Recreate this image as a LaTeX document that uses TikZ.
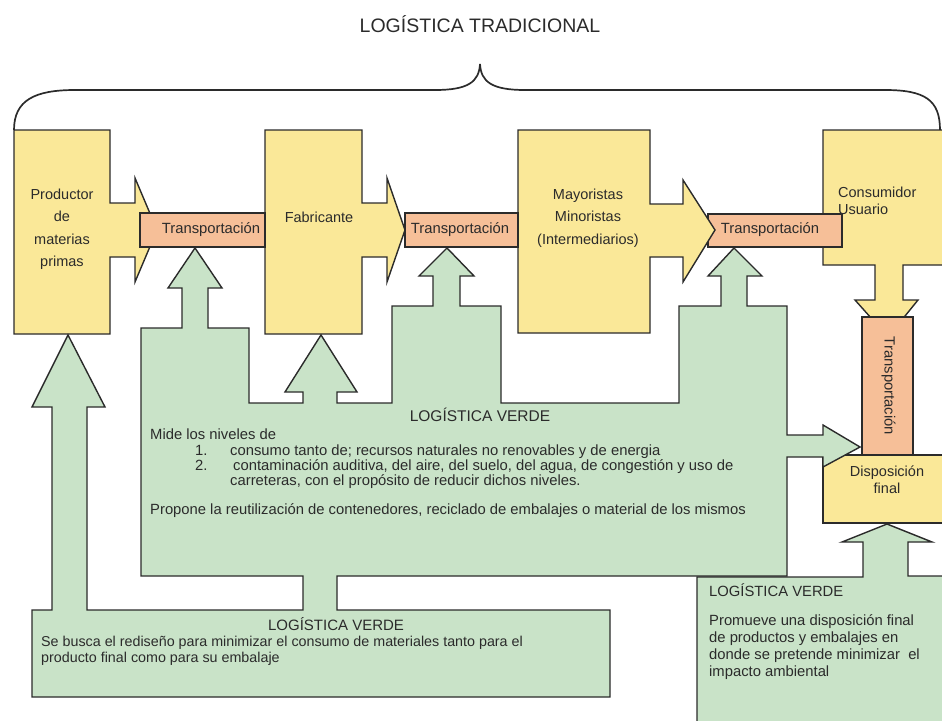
\documentclass[tikz,border=0pt]{standalone}
\usepackage{fontspec}
\setmainfont{Liberation Sans}
\usepackage{tikz}

\definecolor{boxyellow}{HTML}{FAE898}
\definecolor{barorange}{HTML}{F6BF98}
\definecolor{leafgreen}{HTML}{C9E3C8}
\definecolor{inkgray}{HTML}{2B2B2B}

\tikzset{
  shapeline/.style={draw=inkgray, line width=1.4pt, line join=miter},
  yellowbox/.style={shapeline, fill=boxyellow},
  orangebar/.style={shapeline, fill=barorange},
  greenarrow/.style={shapeline, fill=leafgreen},
  braceline/.style={draw=inkgray, line width=1.7pt},
  titletext/.style={text=inkgray, font=\fontsize{19.5}{21}\selectfont, inner sep=0pt},
  boxtext/.style={text=inkgray, font=\fontsize{14.5}{22.5}\selectfont, inner sep=0pt, align=center},
  bodytext/.style={text=inkgray, font=\fontsize{14.8}{16}\selectfont, inner sep=0pt, anchor=west, text height=1.5ex, text depth=.25ex},
  headtext/.style={text=inkgray, font=\fontsize{14.8}{16}\selectfont, inner sep=0pt, text height=1.5ex, text depth=.25ex}
}

\begin{document}
\begin{tikzpicture}[x=1pt,y=-1pt]
\useasboundingbox (0,0) rectangle (942,720);
\clip (0,0) rectangle (942,720);

\node[titletext] (tradicional) at (480,24) {LOGÍSTICA TRADICIONAL};
\draw[braceline] (14,130) .. controls (14,100) and (35,90) .. (75,90) -- (435,90) .. controls (468,90) and (479,82) .. (480,64) .. controls (481,82) and (492,90) .. (525,90) -- (885,90) .. controls (925,90) and (940,100) .. (940,130);

\draw[yellowbox] (823,130) -- (950,130) -- (950,265) -- (903,265) -- (903,300) -- (918,300) -- (888,337) -- (855,300) -- (875,300) -- (875,265) -- (823,265) -- cycle;
\draw[orangebar] (708,214) rectangle (842,247);
\draw[yellowbox] (518,130) -- (650,130) -- (650,204) -- (683,204) -- (683,180) -- (715,230) -- (683,282) -- (683,257) -- (650,257) -- (650,333) -- (518,333) -- cycle;
\draw[yellowbox] (265,130) -- (362,130) -- (362,203) -- (387,203) -- (387,178) -- (405,230) -- (387,282) -- (387,257) -- (362,257) -- (362,334) -- (265,334) -- cycle;
\draw[orangebar] (405,213) rectangle (518,247);
\draw[yellowbox] (14,130) -- (110,130) -- (110,203) -- (135,203) -- (135,178) -- (157,230) -- (135,282) -- (135,257) -- (110,257) -- (110,334) -- (14,334) -- cycle;
\draw[orangebar] (140,213) rectangle (265,247);
\draw[orangebar] (862,317) rectangle (913,455);
\draw[yellowbox] (823,455) rectangle (950,523);

\draw[greenarrow] (32,697) -- (32,610) -- (52,610) -- (52,407) -- (32,407) -- (68,335) -- (105,407) -- (87,407) -- (87,610) -- (303,610) -- (303,576)
  -- (141,576) -- (141,328) -- (182,328) -- (182,288) -- (168,288) -- (195,248) -- (222,288) -- (208,288) -- (208,328) -- (249,328) -- (249,403)
  -- (303,403) -- (303,392) -- (285,392) -- (321,335) -- (357,392) -- (337,392) -- (337,403) -- (392,403) -- (392,306)
  -- (433,306) -- (433,276) -- (419,276) -- (447,248) -- (474,276) -- (460,276) -- (460,306) -- (501,306) -- (501,403)
  -- (679,403) -- (679,306) -- (721,306) -- (721,276) -- (708,276) -- (734,248) -- (762,276) -- (747,276) -- (747,306) -- (787,306)
  -- (787,435) -- (823,435) -- (823,425) -- (860,447) -- (823,467) -- (823,457) -- (787,457) -- (787,576)
  -- (337,576) -- (337,610) -- (610,610) -- (610,697) -- cycle;
\draw[greenarrow] (697,730) -- (697,577) -- (863,577) -- (863,542) -- (842,542) -- (887,524) -- (932,542) -- (908,542) -- (908,576) -- (950,576) -- (950,730) -- cycle;

\node[boxtext] (productor) at (62,229) {Productor\\de\\materias\\primas};
\node[boxtext] (fabricante) at (319,217) {Fabricante};
\node[boxtext] (mayoristas) at (588,218) {Mayoristas\\Minoristas\\(Intermediarios)};
\node[boxtext, align=left, anchor=west, font=\fontsize{14.5}{17}\selectfont] (consumidor) at (838,201) {Consumidor\\Usuario};
\node[headtext] (trans1) at (211,230) {Transportación};
\node[headtext] (trans2) at (460,230) {Transportación};
\node[headtext] (trans3) at (770,230) {Transportación};
\node[headtext, rotate=-90] (trans4) at (888,386) {Transportación};
\node[boxtext, font=\fontsize{14.5}{17}\selectfont] (disposicion) at (887,480) {Disposición\\final};

\node[headtext, font=\fontsize{15.5}{17}\selectfont] (verdecentro) at (480,418) {LOGÍSTICA VERDE};
\node[bodytext] (mide) at (150,436) {Mide los niveles de};
\node[bodytext] (num1) at (195,452) {1.};
\node[bodytext] (consumo) at (230,452) {consumo tanto de; recursos naturales no renovables y de energia};
\node[bodytext] (num2) at (195,467) {2.};
\node[bodytext] (contaminacion) at (233,467) {contaminación auditiva, del aire, del suelo, del agua, de congestión y uso de};
\node[bodytext] (carreteras) at (230,482) {carreteras, con el propósito de reducir dichos niveles.};
\node[bodytext] (propone) at (150,511) {Propone la reutilización de contenedores, reciclado de embalajes o material de los mismos};

\node[headtext, font=\fontsize{15}{17}\selectfont] (verdeabajo) at (336,627) {LOGÍSTICA VERDE};
\node[bodytext, font=\fontsize{14.3}{16}\selectfont] (rediseno) at (41,643) {Se busca el rediseño para minimizar el consumo de materiales tanto para el};
\node[bodytext, font=\fontsize{14.3}{16}\selectfont] (embalaje) at (41,659) {producto final como para su embalaje};

\node[bodytext] (verdederecha) at (709,593) {LOGÍSTICA VERDE};
\node[bodytext] (promueve) at (709,622) {Promueve una disposición final};
\node[bodytext] (productos) at (709,639) {de productos y embalajes en};
\node[bodytext] (pretende) at (709,656) {donde se pretende minimizar\ \ el};
\node[bodytext] (impacto) at (709,673) {impacto ambiental};
\end{tikzpicture}
\end{document}
